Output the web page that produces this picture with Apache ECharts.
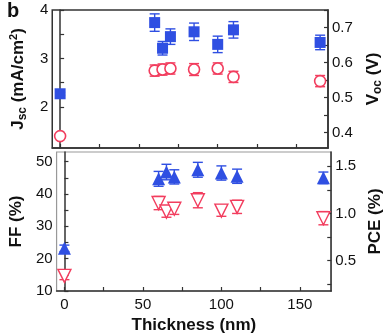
<!DOCTYPE html>
<html>
<head>
<meta charset="utf-8">
<script src="https://cdn.jsdelivr.net/npm/echarts@6/dist/echarts.min.js"></script>
<style>
  html, body { margin: 0; padding: 0; background: #fff; }
  #main { width: 392px; height: 335px; }
</style>
</head>
<body>
<div id="main"></div>
<script>
var thickness = [0, 60, 65, 70, 85, 100, 110, 165];
var jsc = [2.27, 3.74, 3.21, 3.45, 3.55, 3.29, 3.59, 3.33];
var jscErr = [0.03, 0.18, 0.14, 0.16, 0.18, 0.17, 0.17, 0.15];
var voc = [0.39, 0.577, 0.58, 0.583, 0.58, 0.583, 0.559, 0.547];
var vocErr = [0.006, 0.016, 0.016, 0.016, 0.017, 0.016, 0.016, 0.016];
var ff = [23.2, 44.7, 46.8, 45.3, 47.5, 46.5, 45.5, 45.0];
var ffErr = [1.0, 2.3, 2.4, 2.2, 2.3, 2.2, 2.2, 1.8];
var pce = [0.34, 1.11, 1.02, 1.05, 1.14, 1.03, 1.07, 0.95];
var pceErr = [0.04, 0.07, 0.06, 0.06, 0.08, 0.06, 0.07, 0.07];

var xTicks = [0, 25, 50, 75, 100, 125, 150];
var xLabels = [0, 50, 100, 150];
var jscTicks = [1.5, 2, 2.5, 3, 3.5, 4];
var jscLabels = [2, 3, 4];
var vocTicks = [0.4, 0.45, 0.5, 0.55, 0.6, 0.65, 0.7, 0.75];
var vocLabels = [0.4, 0.5, 0.6, 0.7];
var ffTicks = [10, 15, 20, 25, 30, 35, 40, 45, 50];
var ffLabels = [10, 20, 30, 40, 50];
var pceTicks = [0.25, 0.5, 0.75, 1.0, 1.25, 1.5];
var pceLabels = [0.5, 1.0, 1.5];

var blue = '#2f4fe2';
var red = '#f23d5e';
var axisCol = '#333';
var font = 'Liberation Sans, Arial, sans-serif';

var chart = echarts.init(document.getElementById('main'));

function pairs(ys) {
  return thickness.map(function (t, i) { return [t, ys[i]]; });
}
function errData(ys, es) {
  return thickness.map(function (t, i) { return [t, ys[i] - es[i], ys[i] + es[i]]; });
}
function errSeries(xi, yi, ys, es, color) {
  return {
    type: 'custom',
    xAxisIndex: xi,
    yAxisIndex: yi,
    z: 1,
    silent: true,
    data: errData(ys, es),
    renderItem: function (params, api) {
      var lo = api.coord([api.value(0), api.value(1)]);
      var hi = api.coord([api.value(0), api.value(2)]);
      var w = 5;
      var st = { stroke: color, lineWidth: 1.4 };
      return {
        type: 'group',
        children: [
          { type: 'line', shape: { x1: lo[0], y1: lo[1], x2: hi[0], y2: hi[1] }, style: st },
          { type: 'line', shape: { x1: lo[0] - w, y1: lo[1], x2: lo[0] + w, y2: lo[1] }, style: st },
          { type: 'line', shape: { x1: hi[0] - w, y1: hi[1], x2: hi[0] + w, y2: hi[1] }, style: st }
        ]
      };
    }
  };
}

function yAxis(gi, pos, min, max, ticks, labels, name, gap, rich, fmt) {
  return {
    type: 'value',
    gridIndex: gi,
    position: pos,
    min: min,
    max: max,
    splitLine: { show: false },
    axisLine: { show: true, lineStyle: { color: axisCol, width: 1.5 } },
    axisTick: { show: true, inside: true, length: 4, customValues: ticks, lineStyle: { color: axisCol, width: 1.2 } },
    axisLabel: {
      customValues: labels, color: '#111', fontSize: 15, fontFamily: font, margin: 4,
      formatter: fmt || function (v) { return String(v); }
    },
    name: name,
    nameLocation: 'middle',
    nameRotate: 90,
    nameGap: gap,
    nameTextStyle: { color: '#111', fontSize: 17, fontWeight: 'bold', fontFamily: font, rich: rich }
  };
}

function xAxis(gi, showLabels, name) {
  return {
    type: 'value',
    gridIndex: gi,
    min: -5,
    max: 170,
    splitLine: { show: false },
    axisLine: { show: true, onZero: false, lineStyle: { color: axisCol, width: 1.5 } },
    axisTick: { show: true, inside: true, length: 4, customValues: xTicks, lineStyle: { color: axisCol, width: 1.2 } },
    axisLabel: { show: showLabels, customValues: xLabels, color: '#111', fontSize: 15, fontFamily: font, margin: 6 },
    name: name,
    nameLocation: 'middle',
    nameGap: 26,
    nameTextStyle: { color: '#111', fontSize: 17, fontWeight: 'bold', fontFamily: font }
  };
}

var richJ = {
  a: { fontSize: 17, fontWeight: 'bold', fontFamily: font, color: '#111' },
  s: { fontSize: 12, fontWeight: 'bold', fontFamily: font, color: '#111', verticalAlign: 'bottom', padding: [9, 0, 0, 0] },
  p: { fontSize: 11, fontWeight: 'bold', fontFamily: font, color: '#111', verticalAlign: 'top', padding: [0, 0, 9, 0] }
};

option = {
  animation: false,
  backgroundColor: '#fff',
  grid: [
    { left: 49, top: 10, width: 289, height: 138, show: true, borderColor: axisCol, borderWidth: 1.5 },
    { left: 49, top: 152, width: 289, height: 143, show: true, borderColor: '#999', borderWidth: 1.2 }
  ],
  graphic: [
    { type: 'text', left: 7, top: 1, style: { text: 'b', fontSize: 20, fontWeight: 'bold', fontFamily: font, fill: '#111' } }
  ],
  xAxis: [xAxis(0, false, ''), xAxis(1, true, 'Thickness (nm)')],
  yAxis: [
    yAxis(0, 'left', 1.15, 4, jscTicks, jscLabels, '{a|J}{s|sc}{a| (mA/cm}{p|2}{a|)}', 22, richJ),
    yAxis(0, 'right', 0.356, 0.75, vocTicks, vocLabels, '{a|V}{s|oc}{a| (V)}', 35, richJ, function (v) { return v.toFixed(1); }),
    yAxis(1, 'left', 10, 53, ffTicks, ffLabels, 'FF (%)', 25, null),
    yAxis(1, 'right', 0.18, 1.65, pceTicks, pceLabels, 'PCE (%)', 33, null, function (v) { return v.toFixed(1); })
  ],
  series: [
    errSeries(0, 0, jsc, jscErr, blue),
    errSeries(0, 1, voc, vocErr, red),
    errSeries(1, 2, ff, ffErr, blue),
    errSeries(1, 3, pce, pceErr, red),
    {
      type: 'scatter', xAxisIndex: 0, yAxisIndex: 0, z: 3,
      symbol: 'rect', symbolSize: 11, data: pairs(jsc),
      itemStyle: { color: blue, opacity: 1 }
    },
    {
      type: 'scatter', xAxisIndex: 0, yAxisIndex: 1, z: 3,
      symbol: 'circle', symbolSize: 11, data: pairs(voc),
      itemStyle: { color: '#fff', borderColor: red, borderWidth: 1.6, opacity: 1 }
    },
    {
      type: 'scatter', xAxisIndex: 1, yAxisIndex: 2, z: 3,
      symbol: 'triangle', symbolSize: 13, data: pairs(ff),
      itemStyle: { color: blue, opacity: 1 }
    },
    {
      type: 'scatter', xAxisIndex: 1, yAxisIndex: 3, z: 3,
      symbol: 'triangle', symbolRotate: 180, symbolSize: 13, data: pairs(pce),
      itemStyle: { color: '#fff', borderColor: red, borderWidth: 1.4, opacity: 1 }
    }
  ]
};

option && chart.setOption(option);
</script>
</body>
</html>
